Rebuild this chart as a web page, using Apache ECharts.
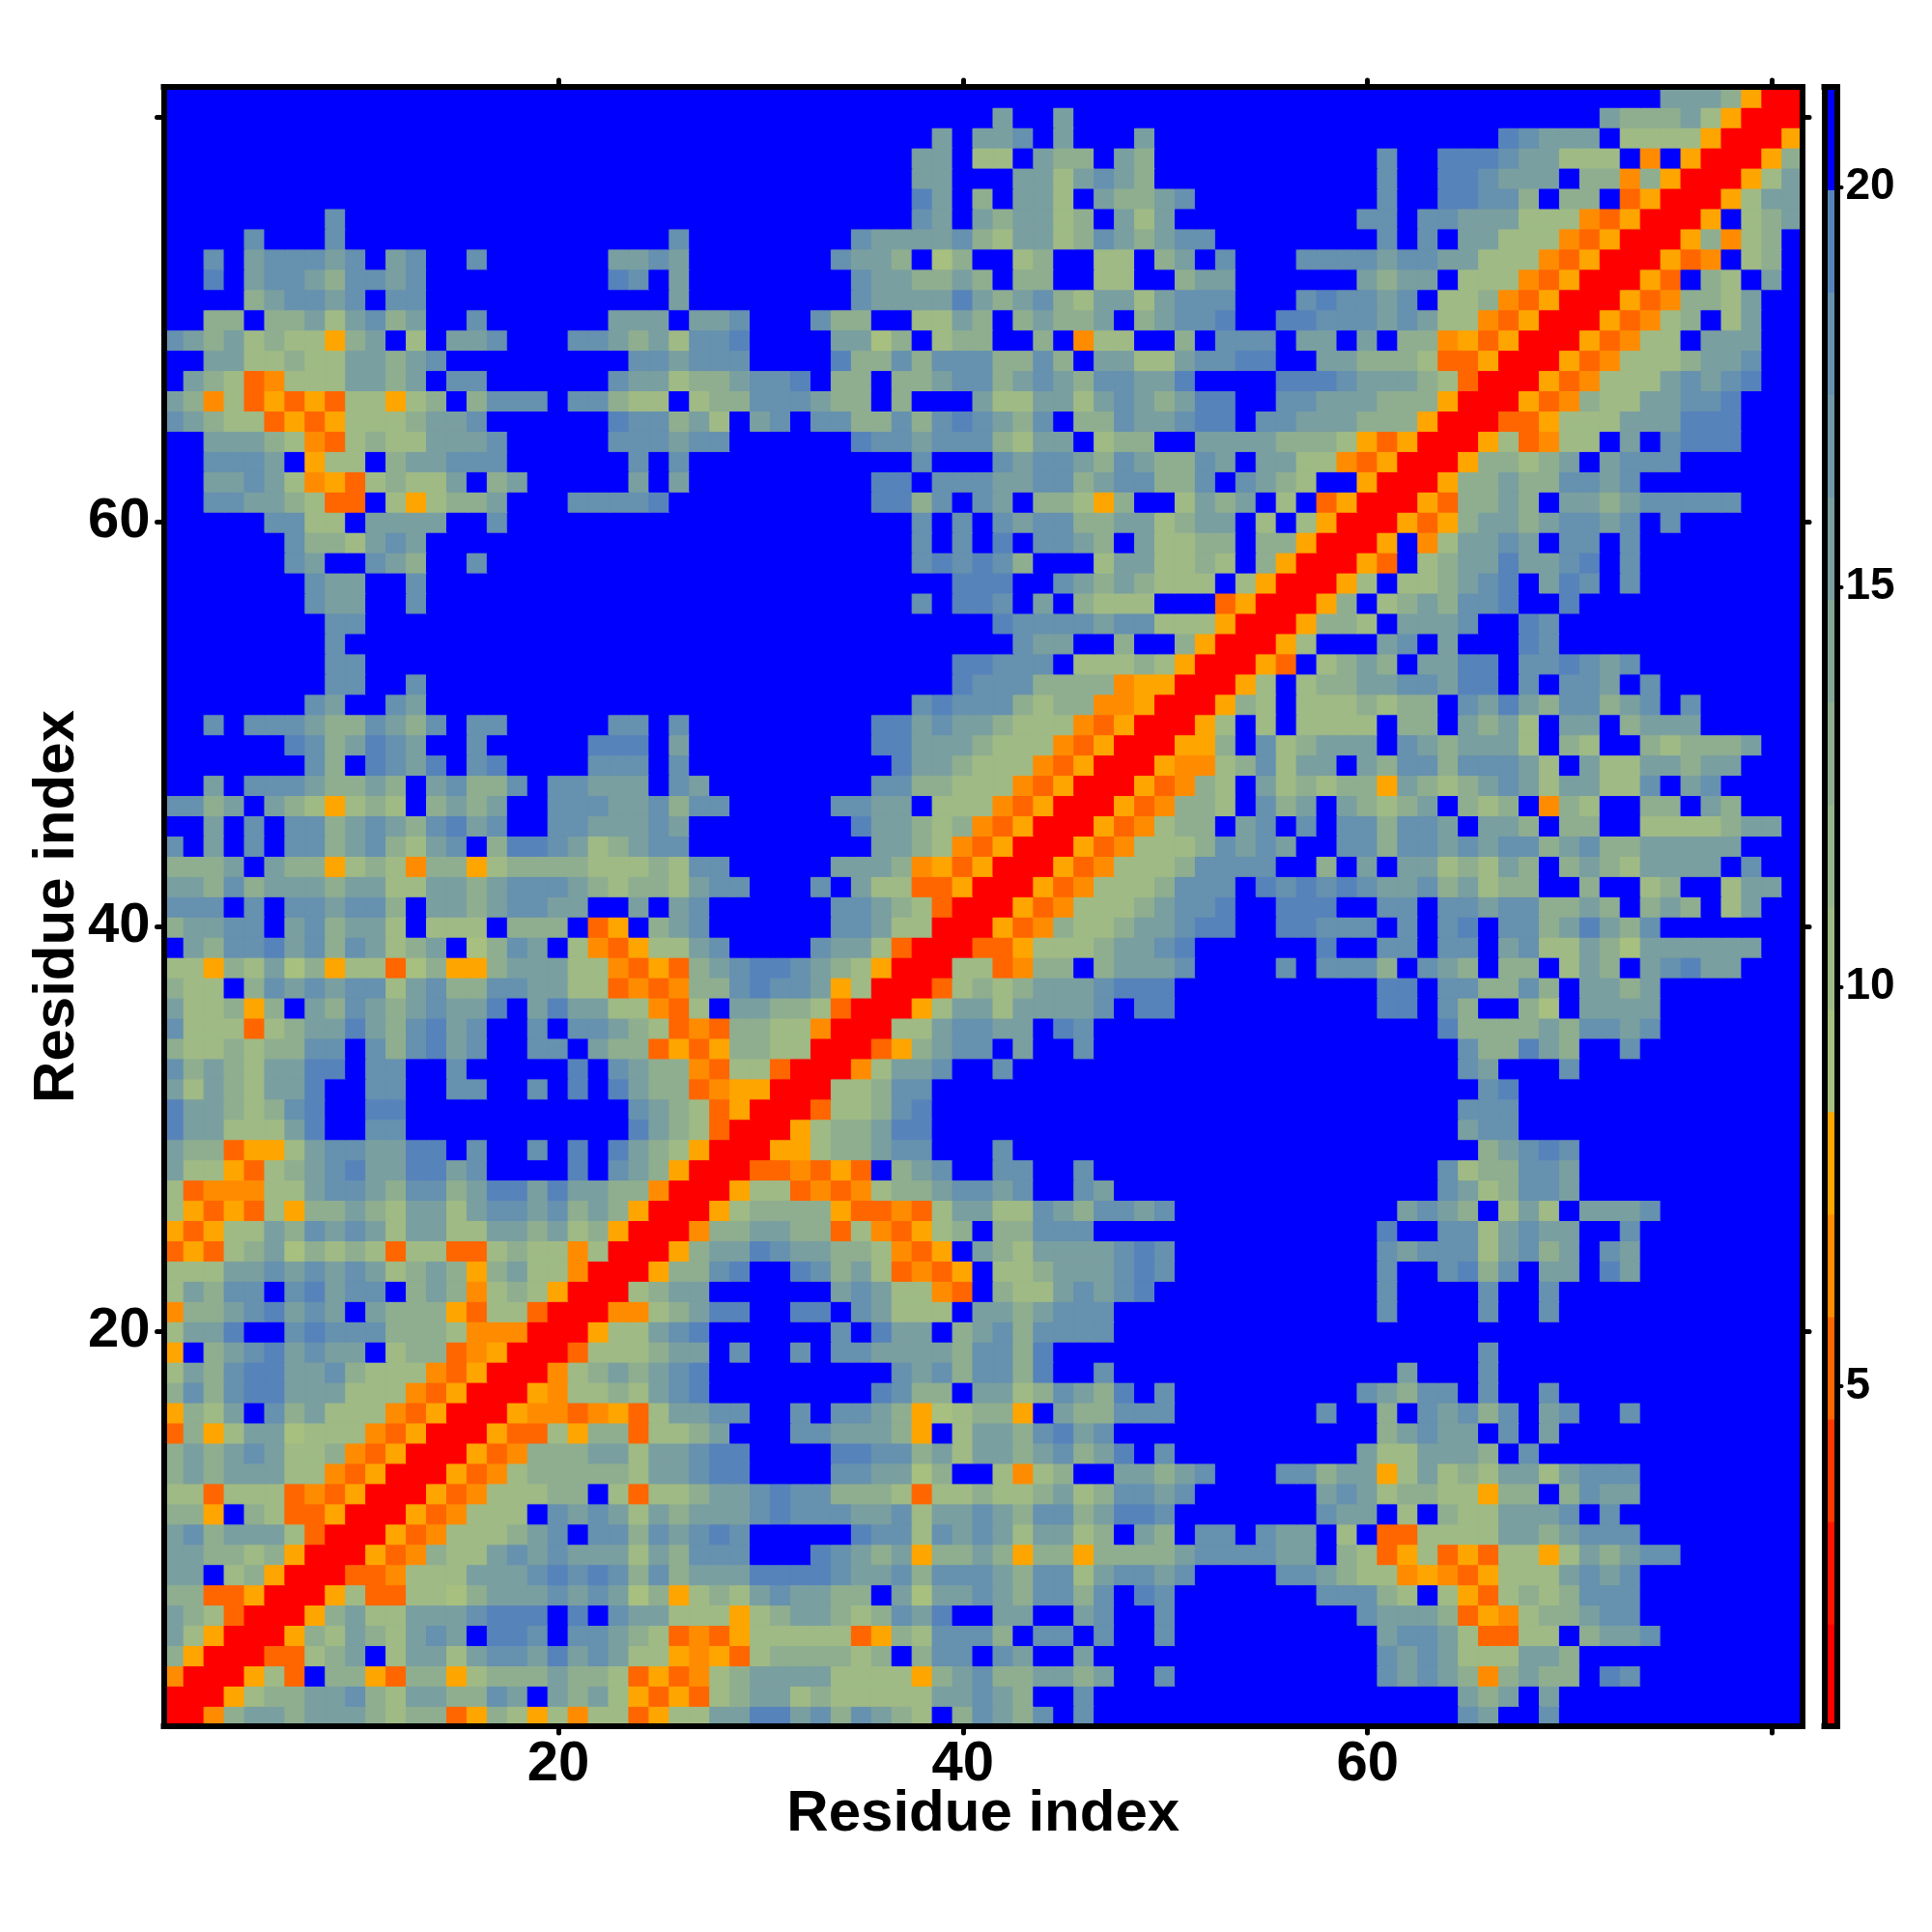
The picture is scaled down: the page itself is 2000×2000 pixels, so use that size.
<!DOCTYPE html>
<html>
<head>
<meta charset="utf-8">
<script src="https://cdn.jsdelivr.net/npm/echarts@6/dist/echarts.min.js"></script>
<style>html,body{margin:0;padding:0;background:#fff}#c{width:2000px;height:2000px}</style>
</head>
<body>
<div id="c"></div>
<script>
// Pairwise distance map (symmetric): each row lists residue y, columns x = 1..y.
// Letters are distance classes, see classValues.
const classValues = {r:1.5,n:5.2,m:6.5,o:7.8,l:9,g:10.3,v:12.9,u:15.5,t:17.9,s:19.3,B:21};
const rowsTopDown = [
"BBBBBBBBBB BBBBBBBBBB BBBBBBBBBB BBBBBBBBBB BBBBBBBBBB BBBBBBBBBB BBBBBBBBBB BBBBuuuvor r",
"BBBBBBBBBB BBBBBBBBBB BBBBBBBBBB BBBBBBBBBB BuBBuBBBBB BBBBBBBBBB BBBBBBBBBB Buvvvugorr",
"BBBBBBBBBB BBBBBBBBBB BBBBBBBBBB BBBBBBBBuB uutBuBBBuB BBBBBBBBBB BBBBBBstuu uBggggorr",
"BBBBBBBBBB BBBBBBBBBB BBBBBBBBBB BBBBBBBuuB ggBuvvBuvB BBBBBBBBBB tBBssstuug ggBmBorr",
"BBBBBBBBBB BBBBBBBBBB BBBBBBBBBB BBBBBBBuuB BBuugutuvB BBBBBBBBBB tBBsstuuuB vvmvorr",
"BBBBBBBBBB BBBBBBBBBB BBBBBBBBBB BBBBBBBsuB vBuugBuvvu tBBBBBBBBB tBBssttvBv vBnorr",
"BBBBBBBBtB BBBBBBBBBB BBBBBBBBBB BBBBBBBtuB uvuugvBugu BBBBBBBBBt tBttuuuggg mnorr",
"BBBBtBBBtB BBBBBBBBBB BBBBBtBBBB BBBBtuuuut vguugvtuvu ttBBBBBBBB tBtBuugggm norr",
"BBtButttut ButBBtBBBB BBuutuBBBB BBBtuuvBlv BBgvBBggBv uBtBBBtttt uttuugggmn orr",
"BBsButtuvt tutBBBBBBB BBstBuBBBB BBBBtuuvvu vBvvBBggBB vuuBBBBBBu vuuBgggmno rr",
"BBBBvuttut BttBBBBBBB BBBBBuBBBB BBBBtuuuus uvutvguugu tttBBBtstt utBggvmnor r",
"BBvvBvvugu tvuBBtBBBB BBuuuBuutB BBtvvBBggu vBvuvvuBvu ttsBBssttt utuggmnorr",
"tuvugvggov uBgBuutBBB ttuvugttsB BBBuulvBgv vBBvBmggBB vBtttBuuBu Bvvmonorr",
"BBuuggvggu uvutBBBBBB BBBttutttB BBBsvvtvtt tvvtvBuugg uttssBBuuv vvgnnorr",
"Buvgnmgggu uvuBttBBBB BBtuugvvut tsBvvBvvut tvutuvttuu sBBBBssstu uuvgnrr",
"uvmgnonong gogvBvtttB ttvggBgvvt ttuvvBvBBB ugguugutuv ussBBttuuu vvvorr",
"tuvggnonog ggvuutBBBB BBsttvugBu tBttvvtvts tuvtBvvtuu tssBttuuuv vvorr",
"BBuuuvgmng vgguuutBBB BBtttuttBB BBBBsttutt tvguuBgvvB Buuuuvvvgo norr",
"BBtttuBogg BvuutttBBB BBBtBtBBBB BBBBBBBtBB Btuttuvtuv vtuBuuggmn orr",
"BBuutugmon gvgguBvuBB BBBuBuBBBB BBBBBssBtt tuuttvuttv vtBtuvgBBo rr",
"BBttuuvgnn BgogvvuBBB ttttsBBBBB BBBBBssvtB tuBvvgovBB guvuBgBnor r",
"BBBBBttggB uuuuBBtBBB BBBBBBBBBB BBBBBBBtBt Btuttvvuug vuuBgBgorr",
"BBBBBBtvvg utuBBBBBBB BBBBBBBBBB BBBBBBBtBt BsBttuvBug gvvBvvorr",
"BBBBBBtuBB tuvBBtBBBB BBBBBBBBBB BBBBBBBtst stvBBBguug gvgBvorr",
"BBBBBBBtuu BBtBBBBBBB BBBBBBBBBB BBBBBBBBBs ssBBtuvuvg ggBgorr",
"BBBBBBBtuu BBtBBBBBBB BBBBBBBBBB BBBBBBBtBs stBuBvgggB BBnorr",
"BBBBBBBBtt BBBBBBBBBB BBBBBBBBBB BBBBBBBBBB Bsttttuttg ggorr",
"BBBBBBBBtB BBBBBBBBBB BBBBBBBBBB BBBBBBBBBB BBtuuBBvBB vorr",
"BBBBBBBBtt BBBBBBBBBB BBBBBBBBBB BBBBBBBBBs stttBgggvg orr",
"BBBBBBBBtt BBtBBBBBBB BBBBBBBBBB BBBBBBBBBs tttvvvvmoo rr",
"BBBBBBBtuB BtuBBBBBBB BBBBBBBBBB BBBBBBBtst ttvgvvmmor r",
"BBtBtttuvv tuvtBttBBB BBttBtBBBB BBBBBssutu uvgggmnorr",
"BBBBBBstvu stuBBtBBBB BsssBuBBBB BBBBBssuuu vgggmnorr",
"BBBBBBBtvB stusBtsBBB BtttBtBBBB BBBBBBsuuv gggmnorr",
"BBuBtttuvv uvButvvtBt tuuuBtuBBB BBBBBttvvg ggmnorr",
"ttvuBuvgog vgBvuvuBBt ttuutvttBB BBBttuuBgg gmnorr",
"BBuBtBttvu tuvtsutBBt tuuutuBBBB BBBBsuuvgv mnorr",
"tBuBtBttvu tvgutBvsst ugvuttBBBB BBBBBuuvgm norr",
"vvvuBuvvog vgmvvogvvv vgggvgttBB BBBuuuvmon orr",
"uuvtvuuuvu ugguuvuttt uvgvvguttB BBtBuggnno rr",
"tttBtBttut tvBuuvuttu uBBuButBBB BBBttuvgnr r",
"vuuttButvu ugBgggBvvv BnoBvutBBB BBBttuggrr",
"Buvttsutvt ugvuBlvtuB gmnoggutBB BBtuugnrr",
"ggovgulvog gnlvoovuuu ggmnonvuts stuvgorr",
"vggBvtutut tgutvvttuu ggnmnmvvts ttuogrr",
"uggvovBuvt uvutuusBus uuggmngBuu vvgnrr",
"tgggngvuus uvtsutBBtB ttuvgnmnvv ggmrr",
"vggvgvvttB tvtsutBBtt Buvvnonovv ggrr",
"tvuvguussB ttBBtBBBBB sBtuvvmngg nrr",
"uguvguusBB ttBBttBBtB sBsuvvnmoo rr",
"suuvgvtsBB ssBBBBBBBB BBBtuvgnor r",
"suugggusBB ttBBBBBBBB BBBsuvgnrr",
"uvvnoogutt uussBtBBtB sBsuvgorr",
"uggongvuts uussutBBBB sBtuvorr",
"gnmmmggutt uvttvussus uuvvmrr",
"gonongovvu vguuguttut vuvorr",
"onogguvtut uguugguuvu gvorr",
"nongvulvgv gnggnngvgg mgrr",
"ggguututut ugvuvovugg mrr",
"guvttBtsut tBvuvmgvgo rr",
"mvvutsutuB uvvvonggnr r",
"guusBBtstt tvvvgmmmrr",
"oBvutsutuu Bgvvnmorr",
"guvtssuutv gggmnorr",
"vtvtssuuug ggmnorr",
"ovguBtvugg gmnorr",
"nvoguulggg mnorr",
"vuvutuggvm norr",
"vuvuuuggmn orr",
"ggngggnmno rr",
"vvoBvgnnor r",
"utvuuugnrr",
"uuvvgvorr",
"uuBgvorr",
"vvnnorr",
"uvgnrr",
"ugorr",
"vorr",
"mrr",
"rr",
"r"
];
const residues = Array.from({length:81},(_,i)=>String(i+1));
const tickResidues = ['20','40','60','80'];
const labelResidues = ['20','40','60'];
const axisTitle = 'Residue index';
// colour bar: equal-width levels
const levelEdges = [0.75,2.03,3.31,4.59,5.88,7.16,8.44,9.72,11,12.28,13.56,14.84,16.13,17.41,18.69,19.97,21.25];
const levelColors = ['#FF0000','#FF1500','#FF3800','#FF6600','#FF8C00','#FFA500','#A7C07F','#9FBA85','#97B48B','#8FAE90','#85A798','#7A9FA0','#7098A8','#6691AF','#5783BB','#0000FF'];
const barTicks = [5,10,15,20];

const colorOf = v => { for(let i=0;i<levelColors.length;i++) if(v<levelEdges[i+1]) return levelColors[i]; return levelColors[levelColors.length-1]; };
const cell = (x,y,v) => ({value:[x,y,v],itemStyle:{borderColor:colorOf(v),borderWidth:1}});

const rows = rowsTopDown.map(s=>s.replace(/ /g,'')).reverse();
const data = [];
for(let y=0;y<81;y++)for(let x=0;x<81;x++){
  const ch = x<=y ? rows[y][x] : rows[x][y];
  data.push(cell(x,y,classValues[ch]));
}
const barData = levelColors.map((c,i)=>cell(0,i,(levelEdges[i]+levelEdges[i+1])/2));
const barCats = levelColors.map((c,i)=>String(i));

const font = '"Liberation Sans", Arial, sans-serif';
const line = {show:true,onZero:false,lineStyle:{color:'#000',width:6,cap:'square'}};
const tickFn = (i,v)=>tickResidues.includes(v);
const labelFn = (i,v)=>labelResidues.includes(v);
const tick = {show:true,alignWithLabel:true,interval:tickFn,length:7,lineStyle:{color:'#000',width:5,cap:'round'}};
const label = {show:true,interval:labelFn,color:'#000',fontFamily:font,fontWeight:'bold',fontSize:58};
const nameStyle = {color:'#000',fontFamily:font,fontWeight:'bold',fontSize:60};

const chart = echarts.init(document.getElementById('c'),null,{renderer:'canvas'});
chart.setOption({
  backgroundColor:'#fff',
  animation:false,
  grid:[
    {left:169.5,top:90,width:1696.5,height:1697,containLabel:false},
    {left:1888.5,top:90,width:13,height:1697,containLabel:false}
  ],
  xAxis:[
    {type:'category',gridIndex:0,position:'bottom',data:residues,z:10,axisLine:line,axisTick:tick,
     axisLabel:{...label,margin:11},splitLine:{show:false},name:axisTitle,nameLocation:'middle',nameGap:61,nameMoveOverlap:false,nameTextStyle:nameStyle},
    {type:'category',gridIndex:0,position:'top',data:residues,z:10,axisLine:line,axisTick:tick,axisLabel:{show:false},splitLine:{show:false}},
    {type:'category',gridIndex:1,position:'bottom',data:[''],z:10,axisLine:line,axisTick:{show:false},axisLabel:{show:false},splitLine:{show:false}},
    {type:'category',gridIndex:1,position:'top',data:[''],z:10,axisLine:line,axisTick:{show:false},axisLabel:{show:false},splitLine:{show:false}}
  ],
  yAxis:[
    {type:'category',gridIndex:0,position:'left',data:residues,z:10,axisLine:line,axisTick:tick,
     axisLabel:{...label,margin:14,padding:[6,0,0,0]},splitLine:{show:false},name:axisTitle,nameLocation:'middle',nameGap:80,nameMoveOverlap:false,nameRotate:90,nameTextStyle:nameStyle},
    {type:'category',gridIndex:0,position:'right',data:residues,z:10,axisLine:line,axisTick:tick,axisLabel:{show:false},splitLine:{show:false}},
    {type:'category',gridIndex:1,position:'left',data:barCats,z:10,axisLine:line,axisTick:{show:false},axisLabel:{show:false},splitLine:{show:false}},
    {type:'value',gridIndex:1,position:'right',min:levelEdges[0],max:levelEdges[levelEdges.length-1],z:10,axisLine:line,
     axisTick:{show:true,customValues:barTicks,length:5,lineStyle:{color:'#000',width:4,cap:'round'}},
     axisLabel:{show:true,customValues:barTicks,margin:9,padding:[12,0,0,0],color:'#000',fontFamily:font,fontWeight:'bold',fontSize:46,formatter:v=>String(v)},
     splitLine:{show:false}}
  ],
  visualMap:{
    show:false,type:'piecewise',seriesIndex:[0,1],dimension:2,
    pieces:levelColors.map((c,i)=>({gte:levelEdges[i],lt:i===15?99:levelEdges[i+1],color:c}))
  },
  series:[
    {type:'heatmap',xAxisIndex:0,yAxisIndex:0,data:data,progressive:0,emphasis:{disabled:true}},
    {type:'heatmap',xAxisIndex:2,yAxisIndex:2,data:barData,progressive:0,emphasis:{disabled:true}}
  ]
});
</script>
</body>
</html>
